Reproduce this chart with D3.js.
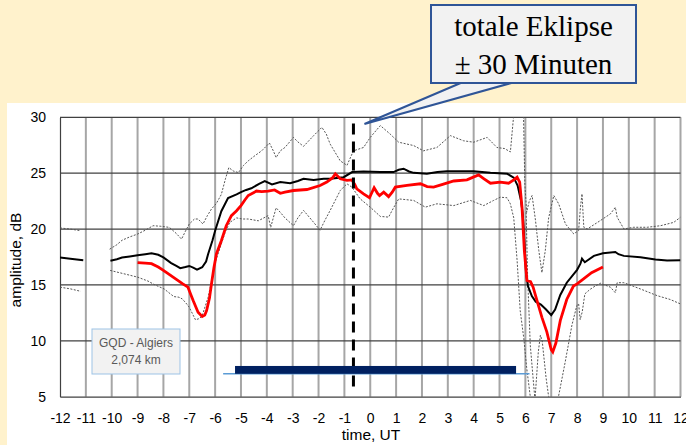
<!DOCTYPE html>
<html>
<head>
<meta charset="utf-8">
<script src="https://cdn.jsdelivr.net/npm/d3@7"></script>
<style>
  body { margin: 0; background: #FFF2CC; }
  svg { display: block; }
</style>
</head>
<body>
<svg></svg>
<script>
// --- data (hours UT, amplitude dB); null = gap in the record
const meanCurve = [
  [-12,17.45],[-11.6,17.35],[-11.1,17.2], null,
  [-10.05,17.17],[-9.8,17.3],[-9.6,17.45],[-9.3,17.55],[-9,17.65],[-8.7,17.75],[-8.46,17.83],[-8.2,17.7],
  [-8,17.47],[-7.7,16.96],[-7.5,16.7],[-7.35,16.5],[-7.15,16.6],[-7,16.7],[-6.85,16.55],[-6.7,16.37],
  [-6.5,16.58],[-6.35,17.1],[-6.27,17.77],[-6.1,19],[-6,19.85],[-5.76,21.6],[-5.5,22.77],[-5.17,23.1],
  [-5,23.3],[-4.8,23.5],[-4.6,23.65],[-4.3,24.05],[-4.08,24.3],[-3.8,24.0],[-3.48,24.2],[-3.1,24.1],
  [-2.8,24.3],[-2.58,24.5],[-2.19,24.4],[-1.8,24.5],[-1.55,24.5],[-1.03,24.64],[-0.7,25.1],[-0.26,25.15],
  [0.39,25.1],[0.9,25.1],[1.1,25.3],[1.29,25.4],[1.5,25.15],[1.68,25.03],[2.19,24.94],[2.6,25.1],
  [2.97,25.18],[4,25.18],[4.65,25.03],[5.3,24.94],[5.55,24.6],[5.7,23.9],[5.83,22.56],[5.9,21.3],
  [5.97,18.5],[6.03,16],[6.1,14.9],[6.25,14],[6.4,13.5],[6.6,13.25],[6.8,12.8],[7,12.3],[7.15,12.8],
  [7.35,14.1],[7.6,15.2],[8,16.35],[8.13,16.9],[8.19,17.35],[8.3,17.03],[8.65,17.6],[9,17.84],
  [9.48,17.95],[9.6,17.75],[9.81,17.6],[10.45,17.48],[11.03,17.27],[11.48,17.18],[12,17.2]
];

const eclipseDay = [
  [-9,17.0],[-8.7,16.95],[-8.46,16.9],[-8.2,16.6],[-8,16.3],[-7.75,15.9],[-7.5,15.5],[-7.25,15.1],
  [-7.05,14.8],[-6.95,14.2],[-6.85,13.6],[-6.66,12.56],[-6.5,12.17],[-6.4,12.3],[-6.33,12.7],[-6.22,13.8],
  [-6.14,15.1],[-6.05,16.5],[-5.95,17.77],[-5.76,18.96],[-5.57,20.3],[-5.37,21.2],[-5.17,21.64],[-5,22.1],
  [-4.85,22.6],[-4.72,23.0],[-4.4,23.4],[-4.2,23.35],[-3.95,23.4],[-3.7,23.5],[-3.48,23.2],[-3.3,23.3],
  [-2.97,23.45],[-2.45,23.54],[-1.94,23.9],[-1.68,24.2],[-1.45,24.6],[-1.35,24.94],[-1.16,24.5],
  [-0.9,24.35],[-0.71,24.4],[-0.6,24.0],[-0.52,23.6],[-0.26,23.15],[-0.03,22.8],[0.15,23.7],[0.28,23.2],
  [0.36,23.0],[0.52,23.3],[0.71,22.9],[0.85,23.3],[0.97,23.75],[1.42,23.9],[1.94,24.05],[2.2,23.8],
  [2.45,23.75],[2.8,24.0],[3.23,24.3],[3.74,24.4],[4.19,24.85],[4.4,24.5],[4.65,24.1],[5.03,24.2],
  [5.35,24.1],[5.55,24.4],[5.68,24.64],[5.78,24.2],[5.87,21.95],[5.96,18.07],[6.06,15.4],[6.2,15.3],
  [6.3,14.8],[6.45,13.6],[6.64,12.1],[6.83,10.8],[7.0,9.2],[7.06,9.0],[7.18,9.8],[7.35,11.8],[7.6,13.7],
  [7.86,14.9],[8.0,15.1],[8.2,15.45],[8.56,16.1],[9,16.6]
];

const upperBand = [
  [-12,20.1],[-11.6,20.0],[-11.2,19.85], null,
  [-10.08,18.2],[-9.8,18.6],[-9.6,19.0],[-9.3,19.3],[-9,19.55],[-8.7,19.9],[-8.4,20.3],[-8.1,20.25],
  [-7.77,20.15],[-7.5,19.6],[-7.3,19.1],[-7.15,19.8],[-7,20.45],[-6.8,20.9],[-6.66,20.9],[-6.47,20.45],
  [-6.3,21.2],[-6.14,21.8],[-5.95,22.3],[-5.76,23.1],[-5.6,24.5],[-5.47,25.5],[-5.3,25.2],[-5.1,25.05],
  [-4.9,25.7],[-4.72,26.1],[-4.5,26.5],[-4.2,27],[-3.9,27.7],[-3.75,27.0],[-3.64,26.4],[-3.48,27.0],
  [-3.3,27.3],[-2.97,28.2],[-2.8,27.8],[-2.58,27.4],[-2.19,28.36],[-1.87,29.1],[-1.7,28.5],[-1.55,27.6],
  [-1.16,26.1],[-0.9,25.7],[-0.65,27],[-0.26,27.3],[0,28.2],[0.39,29.26],[0.77,28.5],[1.1,27.77],
  [1.68,27.47],[2.06,27],[2.58,27.3],[3.1,28.36],[3.61,27.9],[4,27.77],[4.52,28.2],[4.9,27.3],[5.2,27.2],
  [5.42,26.9],[5.49,28.7],[5.58,31],[5.92,31],[5.98,24],[6.05,21.5],[6.15,22.5],[6.26,23],[6.39,20.8],
  [6.52,18.07],[6.64,16.1],[6.77,18.07],[6.9,21],[7.1,23],[7.29,22.25],[7.55,20.46],[7.87,19.57],
  [8.06,19.87],[8.13,21.95],[8.19,23.15],[8.26,20.16],[8.39,20],[8.9,20.76],[9.29,21.36],[9.48,21.95],
  [9.55,21.06],[9.81,20.01],[10.19,20.16],[10.71,20.16],[11.23,20.3],[11.74,20.6],[12,21.06], null,
  [6.03,21.5],[6.09,15.5],[6.19,9.6],[6.36,5],[6.42,3.5]
];

const lowerBand = [
  [-12,14.8],[-11.6,14.65],[-11.2,14.43], null,
  [-10.06,16.3],[-9.6,16.04],[-9,15.7],[-8.6,15.35],[-8.35,15.03],[-7.97,14.64],[-7.6,13.96],[-7.4,13.9],
  [-7.27,13.75],[-7.1,13.3],[-7,13],[-6.85,12.3],[-6.76,11.88],[-6.6,12.0],[-6.5,12.26],[-6.27,13.9],
  [-6.1,15.8],[-6,17],[-5.76,18.66],[-5.6,19.8],[-5.43,20.6],[-5.17,21],[-4.95,20.9],[-4.72,20.9],
  [-4.33,20.74],[-3.95,21.2],[-3.85,20.15],[-3.75,21.0],[-3.64,21.9],[-3.48,21.5],[-3.3,21.0],[-2.97,20.3],
  [-2.8,21.0],[-2.58,21.67],[-2.19,20.6],[-1.94,19.9],[-1.75,20.8],[-1.55,21.67],[-1.16,23.45],[-0.9,24.05],
  [-0.71,23.75],[-0.39,22.7],[0,21.96],[0.39,21.13],[0.71,21.07],[0.9,21.9],[1.1,22.7],[1.68,22.56],
  [2.13,21.96],[2.58,22.26],[3.23,22.1],[3.87,22.56],[4.39,22.1],[4.77,22.56],[5.03,22.85],[5.29,22.8],
  [5.42,22.25],[5.55,21.0],[5.68,17.2],[5.8,12.7],[5.94,10.2],[6.05,7.6],[6.19,5],[6.25,3.5],[6.3,3.5],
  [6.38,5],[6.5,9],[6.58,10.5],[6.65,10.0],[6.8,6.7],[6.9,5],[6.95,3.5],[7.2,3.5],[7.28,5],[7.54,8.1],
  [7.8,11.4],[7.99,13.15],[8.06,13.3],[8.12,11.9],[8.2,12.6],[8.3,14.2],[8.5,14.6],[8.7,14.9],[8.9,15.15],
  [9.29,14.8],[9.48,14.3],[9.55,15.2],[9.81,15.2],[10.45,14.64],[11.1,14.04],[11.6,13.7],[12,13.3]
];

const totality = -0.65;            // dashed marker
const eclipseBar = [-5.23, 5.64];  // dark bar
const eclipseLine = [-5.69, 6.16]; // thin line under it
const barLevel = [7.05, 7.75];
const xTicks = d3.range(-12, 13);
const yTicks = [5, 10, 15, 20, 25, 30];
const calloutText = ["totale Eklipse", "\u00B1 30 Minuten"];
const stationText = ["GQD - Algiers", "2,074 km"];

const width = 686;
const height = 445;

const svg = d3.select('svg')
  .attr("width", width)
  .attr("height", height);

// white chart area
svg.append("rect")
  .attr("x", 7).attr("y", 103)
  .attr("width", width - 7).attr("height", height - 103)
  .attr("fill", "#fff");

const xScale = d3.scaleLinear().domain([-12, 12]).range([60, 680.5]);
const yScale = d3.scaleLinear().domain([5, 30]).range([396.7, 117.3]);

svg.append("defs").append("clipPath").attr("id", "plot")
  .append("rect")
  .attr("x", xScale(-12)).attr("y", yScale(30))
  .attr("width", xScale(12) - xScale(-12))
  .attr("height", yScale(5) - yScale(30));

// vertical grid (gray)
svg.append("g").selectAll("line")
  .data(xTicks.slice(1))
  .enter().append("line")
  .attr("x1", d => xScale(d)).attr("x2", d => xScale(d))
  .attr("y1", yScale(30)).attr("y2", yScale(5))
  .attr("stroke", "#a6a6a6").attr("stroke-width", 2);

// horizontal grid (dark)
svg.append("g").selectAll("line")
  .data(yTicks.slice(1))
  .enter().append("line")
  .attr("x1", xScale(-12)).attr("x2", xScale(12))
  .attr("y1", d => yScale(d)).attr("y2", d => yScale(d))
  .attr("stroke", "#404040").attr("stroke-width", 1.2);

const xAxis = d3.axisBottom(xScale).tickValues(xTicks).tickFormat(d => String(d))
  .tickSize(0).tickPadding(16);
const yAxis = d3.axisLeft(yScale).tickValues(yTicks).tickFormat(d => String(d))
  .tickSize(0).tickPadding(14);

const gx = svg.append("g")
  .attr("transform", `translate(0,${yScale(5)})`)
  .call(xAxis);
const gy = svg.append("g")
  .attr("transform", `translate(${xScale(-12)},0)`)
  .call(yAxis);

[gx, gy].forEach(g => {
  g.select(".domain").attr("stroke", "#404040").attr("stroke-width", 1.2);
  g.selectAll("text")
    .attr("fill", "#000")
    .style("font-family", "'Liberation Sans', Arial, sans-serif")
    .style("font-size", "14px");
});

svg.append("text")
  .attr("transform", "rotate(-90)")
  .attr("x", -260)
  .attr("y", 21)
  .style("text-anchor", "middle")
  .style("font-family", "'Liberation Sans', Arial, sans-serif")
  .style("font-size", "15.5px")
  .text("amplitude, dB");

svg.append("text")
  .attr("x", 371)
  .attr("y", 440)
  .style("text-anchor", "middle")
  .style("font-family", "'Liberation Sans', Arial, sans-serif")
  .style("font-size", "15.5px")
  .text("time, UT");

// curves
const line = d3.line()
  .defined(d => d !== null)
  .x(d => xScale(d[0]))
  .y(d => yScale(d[1]));

const curves = svg.append("g").attr("clip-path", "url(#plot)");

[upperBand, lowerBand].forEach(data => {
  curves.append("path")
    .datum(data)
    .attr("d", line)
    .attr("fill", "none")
    .attr("stroke", "#555")
    .attr("stroke-width", 1)
    .attr("stroke-dasharray", "2,1.5");
});

curves.append("path")
  .datum(meanCurve)
  .attr("d", line)
  .attr("fill", "none")
  .attr("stroke", "#000")
  .attr("stroke-width", 2);

curves.append("path")
  .datum(eclipseDay)
  .attr("d", line)
  .attr("fill", "none")
  .attr("stroke", "#ff0000")
  .attr("stroke-width", 2.8);

// totality marker
svg.append("line")
  .attr("x1", xScale(totality)).attr("x2", xScale(totality))
  .attr("y1", yScale(29.45)).attr("y2", yScale(5.3))
  .attr("stroke", "#000")
  .attr("stroke-width", 3)
  .attr("stroke-dasharray", "11,7");

// eclipse bar
svg.append("line")
  .attr("x1", xScale(eclipseLine[0])).attr("x2", xScale(eclipseLine[1]))
  .attr("y1", yScale(barLevel[0])).attr("y2", yScale(barLevel[0]))
  .attr("stroke", "#5b9bd5").attr("stroke-width", 1.5);

svg.append("rect")
  .attr("x", xScale(eclipseBar[0]))
  .attr("width", xScale(eclipseBar[1]) - xScale(eclipseBar[0]))
  .attr("y", yScale(barLevel[1]))
  .attr("height", yScale(barLevel[0]) - yScale(barLevel[1]))
  .attr("fill", "#002060");

// station label
svg.append("rect")
  .attr("x", 92).attr("y", 329).attr("width", 88).attr("height", 45)
  .attr("fill", "#f2f2f2")
  .attr("stroke", "#9dc3e6").attr("stroke-width", 1);

svg.append("g").selectAll("text")
  .data(stationText)
  .enter().append("text")
  .attr("x", 136)
  .attr("y", (d, i) => 346.5 + i * 17)
  .style("text-anchor", "middle")
  .style("font-family", "'Liberation Sans', Arial, sans-serif")
  .style("font-size", "12px")
  .attr("fill", "#595959")
  .text(d => d);

// callout
svg.append("polygon")
  .attr("points", `463,82 ${xScale(totality) + 11},124 515,82`)
  .attr("fill", "#f2f2f2")
  .attr("stroke", "#2f5597")
  .attr("stroke-width", 2);

svg.append("rect")
  .attr("x", 431).attr("y", 5).attr("width", 205).attr("height", 78)
  .attr("fill", "#f2f2f2")
  .attr("stroke", "#2f5597")
  .attr("stroke-width", 2);

svg.append("g").selectAll("text")
  .data(calloutText)
  .enter().append("text")
  .attr("x", 533.5)
  .attr("y", (d, i) => 36 + i * 37.5)
  .style("text-anchor", "middle")
  .style("font-family", "'Liberation Serif', 'Times New Roman', serif")
  .style("font-size", "29px")
  .attr("fill", "#000")
  .text(d => d);
</script>
</body>
</html>
